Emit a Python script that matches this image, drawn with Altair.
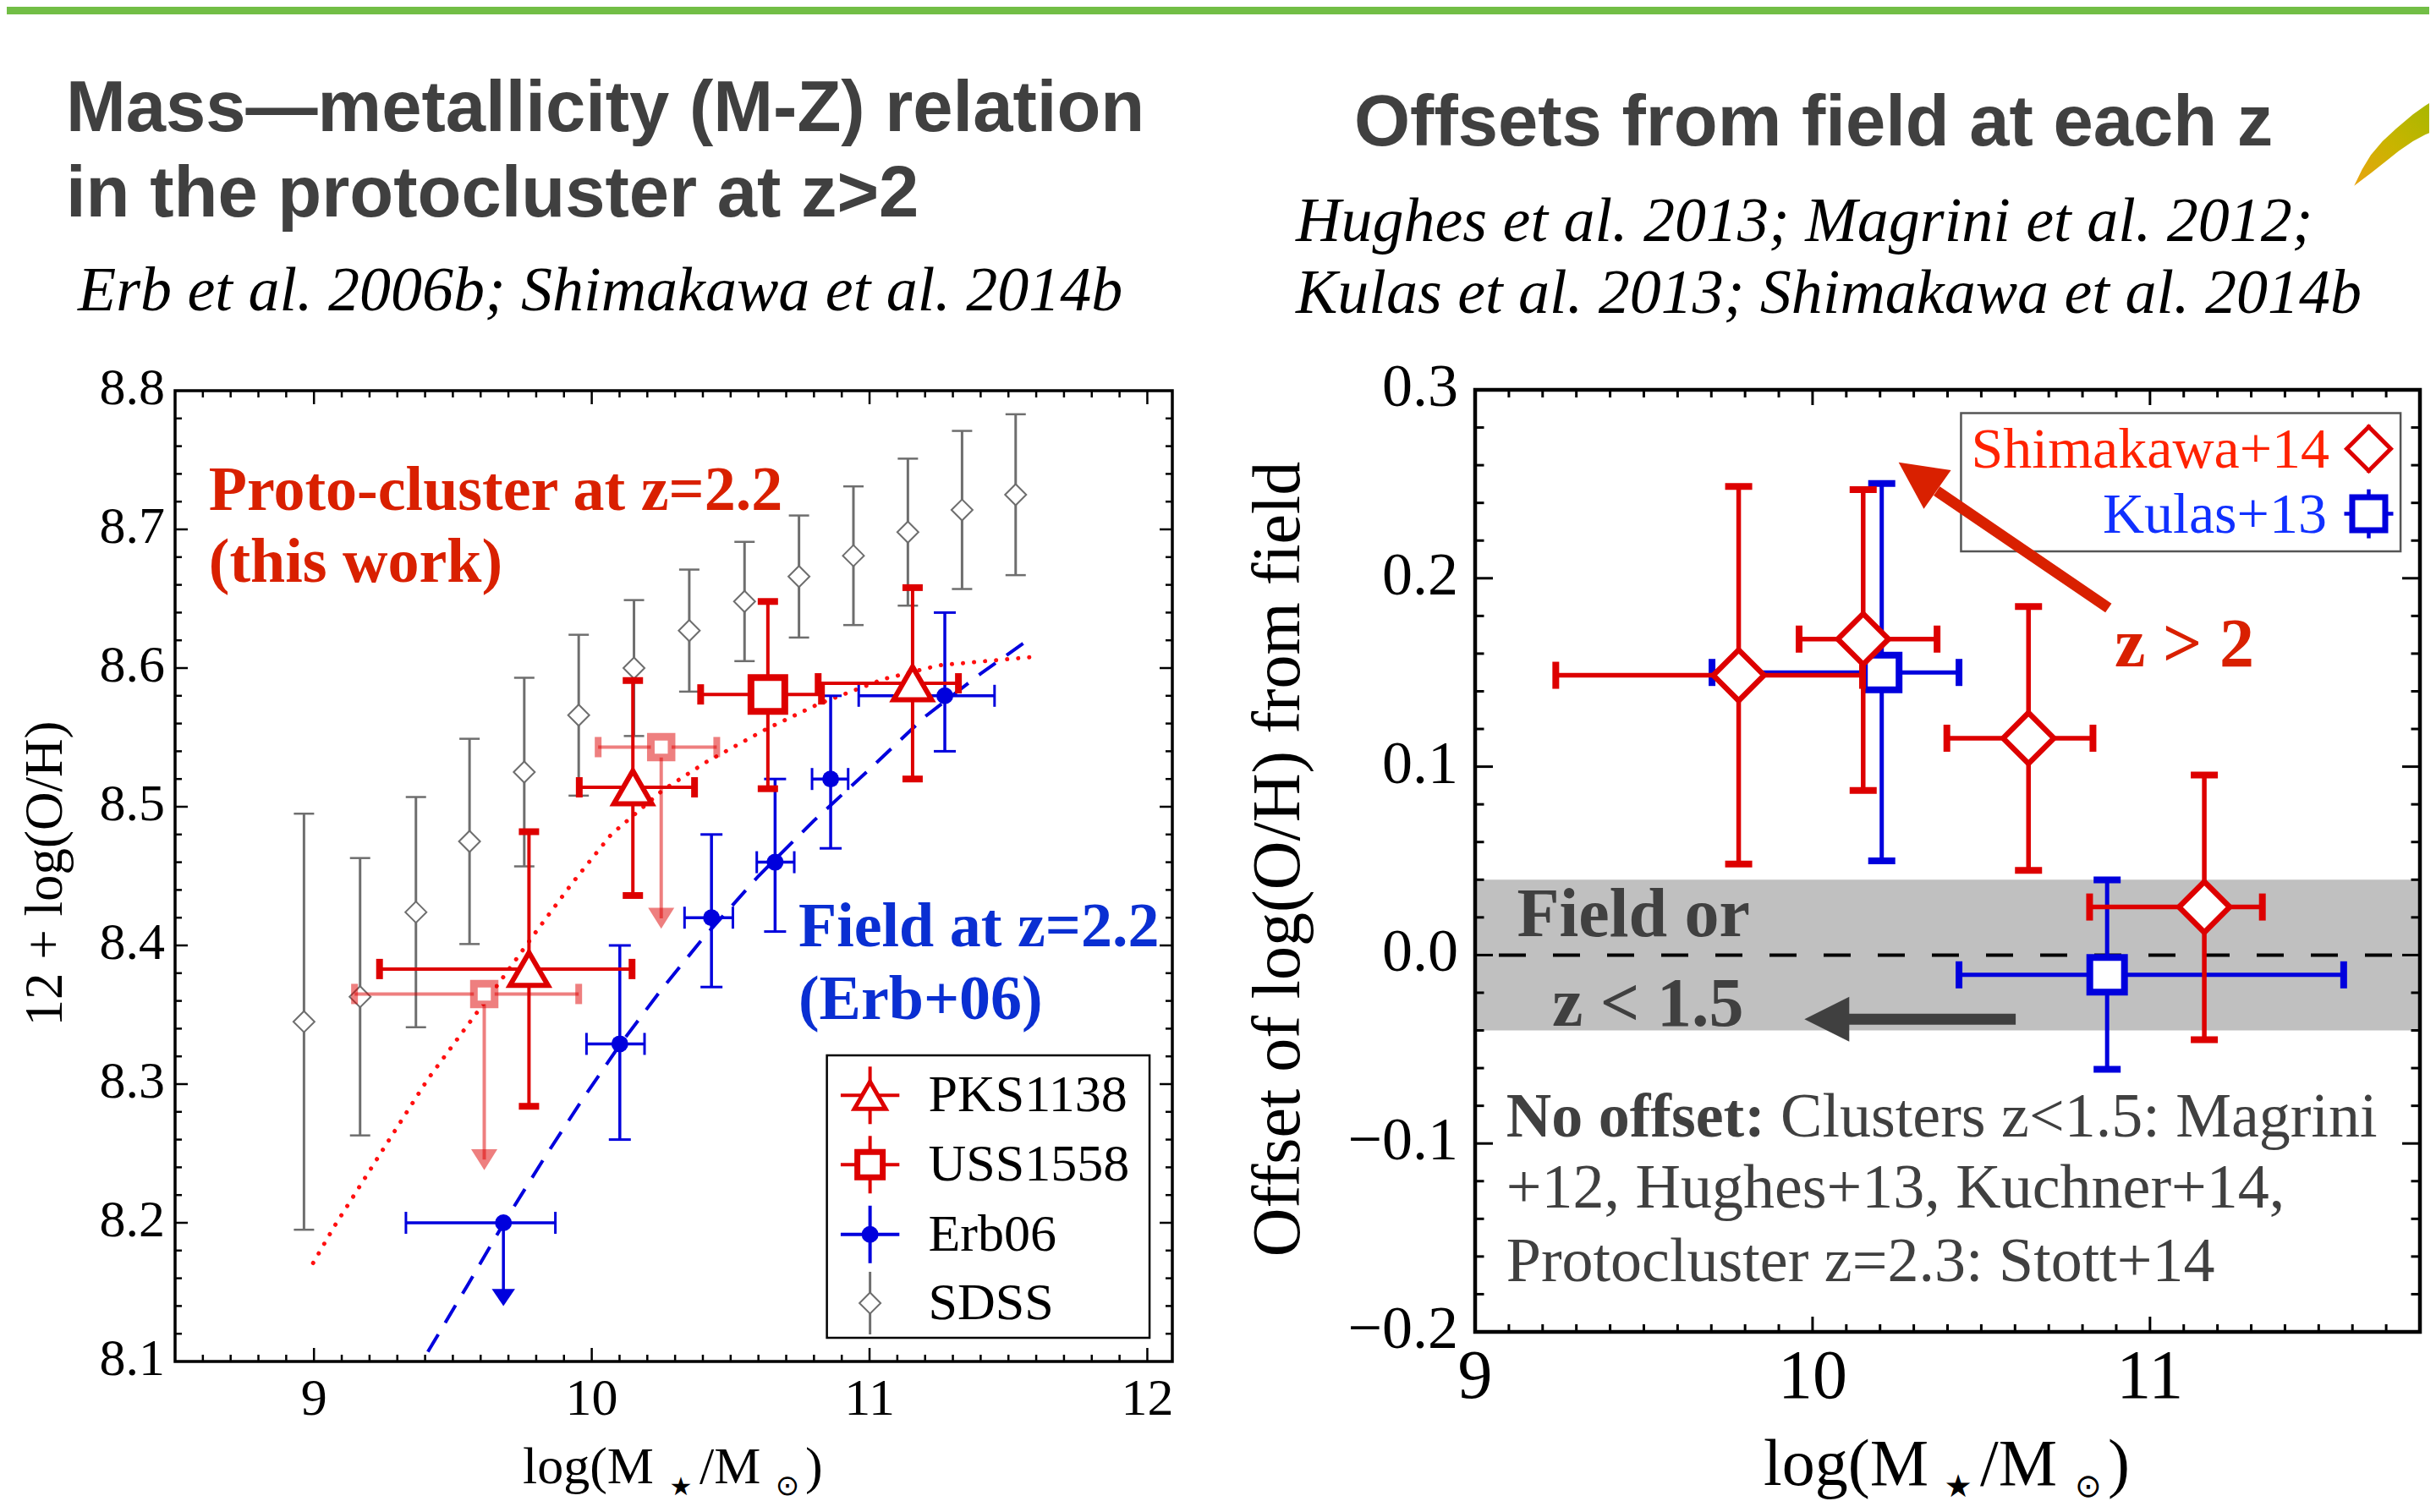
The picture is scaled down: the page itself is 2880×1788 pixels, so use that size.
import altair as alt
import pandas as pd

W, H = 2864, 1772
SERIF = "Liberation Serif"
SANS = "Liberation Sans"
RED = "#dd0000"
BLUE = "#0000dd"
GRAY = "#6e6e6e"
DARK = "#404040"
TRED = "#d92000"
TBLUE = "#0a2fd2"

# ---------------- LEFT PANEL DATA (12+log(O/H) vs log M*) ----------------
sdss_mass = [8.964, 9.166, 9.367, 9.560, 9.757, 9.953, 10.152, 10.351, 10.550, 10.746, 10.942, 11.138, 11.333, 11.526]
sdss_oh = [8.345, 8.363, 8.424, 8.475, 8.525, 8.566, 8.600, 8.627, 8.648, 8.666, 8.681, 8.698, 8.714, 8.725]
sdss_err = [0.150, 0.100, 0.083, 0.074, 0.068, 0.058, 0.049, 0.044, 0.043, 0.044, 0.050, 0.053, 0.057, 0.058]

pks_mass = [9.774, 10.148, 11.155]
pks_mlo = [9.236, 9.955, 10.815]
pks_mhi = [10.145, 10.370, 11.320]
pks_oh = [8.383, 8.514, 8.589]
pks_ohlo = [8.284, 8.436, 8.520]
pks_ohhi = [8.482, 8.591, 8.658]

uss_mass = [10.634]
uss_mlo = [10.392]
uss_mhi = [10.827]
uss_oh = [8.581]
uss_ohlo = [8.513]
uss_ohhi = [8.648]

ussl_mass = [9.613, 10.250]
ussl_mlo = [9.146, 10.023]
ussl_mhi = [9.953, 10.450]
ussl_oh = [8.365, 8.543]
ussl_tip = [8.238, 8.412]

erb_mass = [9.682, 10.101, 10.431, 10.660, 10.860, 11.271]
erb_mlo = [9.331, 9.981, 10.334, 10.594, 10.793, 10.961]
erb_mhi = [9.869, 10.190, 10.508, 10.729, 10.923, 11.450]
erb_oh = [8.200, 8.329, 8.420, 8.460, 8.520, 8.580]
erb_ohlo = [None, 8.260, 8.370, 8.410, 8.470, 8.540]
erb_ohhi = [None, 8.400, 8.480, 8.520, 8.580, 8.640]
erb_tip = [8.140]

erbfit_mass = [9.41, 9.55, 9.69, 9.83, 9.97, 10.10, 10.25, 10.40, 10.60, 10.80, 11.00, 11.20, 11.40, 11.59]
erbfit_oh = [8.107, 8.154, 8.202, 8.247, 8.290, 8.328, 8.368, 8.405, 8.450, 8.490, 8.527, 8.565, 8.596, 8.623]

pcfit_mass = [8.997, 9.072, 9.268, 9.408, 9.577, 9.670, 9.800, 9.930, 10.070, 10.256, 10.410, 10.628, 10.815, 11.050, 11.250, 11.586]
pcfit_oh = [8.171, 8.197, 8.259, 8.303, 8.349, 8.374, 8.410, 8.445, 8.480, 8.512, 8.532, 8.556, 8.574, 8.592, 8.602, 8.608]

left_xticks = [9, 10, 11, 12]
left_xlabels = ["9", "10", "11", "12"]
left_yticks = [8.1, 8.2, 8.3, 8.4, 8.5, 8.6, 8.7, 8.8]
left_ylabels = ["8.1", "8.2", "8.3", "8.4", "8.5", "8.6", "8.7", "8.8"]

legend_names = ["PKS1138", "USS1558", "Erb06", "SDSS"]

# ---------------- RIGHT PANEL DATA (offset from field) ----------------
shim_mass = [9.781, 10.150, 10.640, 11.161]
shim_mlo = [9.239, 9.960, 10.398, 10.821]
shim_mhi = [10.148, 10.369, 10.831, 11.333]
shim_off = [0.1485, 0.1677, 0.1151, 0.0255]
shim_offlo = [0.0483, 0.0874, 0.0449, -0.0449]
shim_offhi = [0.2487, 0.2470, 0.1850, 0.0956]

kulas_mass = [10.205, 10.873]
kulas_mlo = [9.702, 10.434]
kulas_mhi = [10.434, 11.574]
kulas_off = [0.1500, -0.0105]
kulas_offlo = [0.0500, -0.0606]
kulas_offhi = [0.2503, 0.0399]

field_band = [-0.04, 0.04]

right_xticks = [9, 10, 11]
right_xlabels = ["9", "10", "11"]
right_yticks = [-0.2, -0.1, 0.0, 0.1, 0.2, 0.3]
right_ylabels = ["\u22120.2", "\u22120.1", "0.0", "0.1", "0.2", "0.3"]

# ---------------- scales (each panel has its own pixel range) ----------------
LP = {"xs": alt.Scale(domain=[8.5, 12.09], range=[199, 1378], nice=False, zero=False),
      "ys": alt.Scale(domain=[8.1, 8.8], range=[1602, 454], nice=False, zero=False),
      "pxx": 1179 / 3.59, "pxy": 1148 / 0.7}
RP = {"xs": alt.Scale(domain=[9.0, 11.8], range=[1736, 2853], nice=False, zero=False),
      "ys": alt.Scale(domain=[-0.2, 0.3], range=[1567, 453], nice=False, zero=False),
      "pxx": 1117 / 2.8, "pxy": 1114 / 0.5}


def X(f, p):
    return alt.X(f, type="quantitative", scale=p["xs"], axis=None)


def Y(f, p):
    return alt.Y(f, type="quantitative", scale=p["ys"], axis=None)


def vrule(df, p, x, y, y2, **mk):
    return alt.Chart(df).mark_rule(**mk).encode(x=X(x, p), y=Y(y, p), y2=alt.Y2(y2))


def hrule(df, p, x, x2, y, **mk):
    return alt.Chart(df).mark_rule(**mk).encode(x=X(x, p), x2=alt.X2(x2), y=Y(y, p))


def seg(df, p, x, y, x2, y2, **mk):
    return alt.Chart(df).mark_rule(**mk).encode(x=X(x, p), y=Y(y, p), x2=alt.X2(x2), y2=alt.Y2(y2))


def tick(df, p, x, y, **mk):
    mk.setdefault("opacity", 1)
    return alt.Chart(df).mark_tick(**mk).encode(x=X(x, p), y=Y(y, p))


def pts(df, p, x, y, **mk):
    mk.setdefault("opacity", 1)
    return alt.Chart(df).mark_point(filled=True, **mk).encode(x=X(x, p), y=Y(y, p))


def txt(df, p, x, y, **mk):
    return alt.Chart(df).mark_text(**mk).encode(x=X(x, p), y=Y(y, p), text=alt.Text("t:N"))


def errbars(df, p, color, bw, clen, cth, opacity=1, vert=True):
    out = [hrule(df, p, "xlo", "xhi", "y", color=color, strokeWidth=bw, opacity=opacity)]
    if vert:
        out.append(vrule(df, p, "x", "ylo", "yhi", color=color, strokeWidth=bw, opacity=opacity))
        out.append(tick(df, p, "x", "ylo", orient="horizontal", size=clen, thickness=cth, color=color, opacity=opacity))
        out.append(tick(df, p, "x", "yhi", orient="horizontal", size=clen, thickness=cth, color=color, opacity=opacity))
    out.append(tick(df, p, "xlo", "y", orient="vertical", size=clen, thickness=cth, color=color, opacity=opacity))
    out.append(tick(df, p, "xhi", "y", orient="vertical", size=clen, thickness=cth, color=color, opacity=opacity))
    return out


def frame_and_ticks(p, x0, x1, y0, y1, xt, yt, xmaj, ymaj, xlen, ylen, sw, tw):
    # xlen/ylen : (major, minor) tick length in pixels; ticks point inward
    fr = pd.DataFrame({"x": [x0], "x2": [x1], "y": [y0], "y2": [y1]})
    layers = [alt.Chart(fr).mark_rect(fillOpacity=0, stroke="black", strokeWidth=sw).encode(
        x=X("x", p), x2=alt.X2("x2"), y=Y("y", p), y2=alt.Y2("y2"))]
    rows = []
    for v in xt:
        L = (xlen[0] if any(abs(v - m) < 1e-6 for m in xmaj) else xlen[1]) / p["pxy"]
        rows.append({"x": v, "x2": v, "y": y0, "y2": y0 + L})
        rows.append({"x": v, "x2": v, "y": y1, "y2": y1 - L})
    for v in yt:
        L = (ylen[0] if any(abs(v - m) < 1e-6 for m in ymaj) else ylen[1]) / p["pxx"]
        rows.append({"x": x0, "x2": x0 + L, "y": v, "y2": v})
        rows.append({"x": x1, "x2": x1 - L, "y": v, "y2": v})
    layers.append(seg(pd.DataFrame(rows), p, "x", "y", "x2", "y2", color="black", strokeWidth=tw))
    return layers


def tri_path(hw):
    return "M-1,-%.2fL1,-%.2fL0,%.2fZ" % (hw, hw, hw)


# =============================== LEFT PANEL ===============================
lp = LP
left_layers = []

sdss = pd.DataFrame({"x": sdss_mass, "y": sdss_oh})
sdss["ylo"] = [a - b for a, b in zip(sdss_oh, sdss_err)]
sdss["yhi"] = [a + b for a, b in zip(sdss_oh, sdss_err)]
left_layers += [
    vrule(sdss, lp, "x", "ylo", "yhi", color=GRAY, strokeWidth=3),
    tick(sdss, lp, "x", "ylo", orient="horizontal", size=24, thickness=2.5, color=GRAY),
    tick(sdss, lp, "x", "yhi", orient="horizontal", size=24, thickness=2.5, color=GRAY),
    pts(sdss, lp, "x", "y", shape="diamond", size=625, fill="white", stroke=GRAY, strokeWidth=2),
]

pcfit = pd.DataFrame({"x": pcfit_mass, "y": pcfit_oh})
erbfit = pd.DataFrame({"x": erbfit_mass, "y": erbfit_oh})
left_layers += [
    alt.Chart(pcfit).mark_line(color="#ff1010", strokeWidth=5, strokeDash=[0.1, 13], strokeCap="round").encode(
        x=X("x", lp), y=Y("y", lp)),
    alt.Chart(erbfit).mark_line(color=BLUE, strokeWidth=4, strokeDash=[24, 16]).encode(
        x=X("x", lp), y=Y("y", lp)),
]

# Erb06 field galaxies
erb = pd.DataFrame({"x": erb_mass, "xlo": erb_mlo, "xhi": erb_mhi, "y": erb_oh,
                    "ylo": erb_ohlo, "yhi": erb_ohhi})
erb_det = erb.iloc[1:].reset_index(drop=True)
erb_lim = erb.iloc[:1].reset_index(drop=True)
erb_lim["tip"] = erb_tip
erb_lim["head"] = [t + 10 / lp["pxy"] for t in erb_tip]
left_layers += errbars(erb_det, lp, BLUE, 3.5, 26, 3)
left_layers += [
    hrule(erb_lim, lp, "xlo", "xhi", "y", color=BLUE, strokeWidth=3.5),
    tick(erb_lim, lp, "xlo", "y", orient="vertical", size=26, thickness=3, color=BLUE),
    tick(erb_lim, lp, "xhi", "y", orient="vertical", size=26, thickness=3, color=BLUE),
    vrule(erb_lim, lp, "x", "head", "y", color=BLUE, strokeWidth=3.5),
    pts(erb_lim, lp, "x", "head", shape=tri_path(0.73), size=756, color=BLUE, strokeWidth=0),
    pts(erb, lp, "x", "y", shape="circle", size=400, color=BLUE, strokeWidth=0),
]

# USS1558 upper limits (faded)
ussl = pd.DataFrame({"x": ussl_mass, "xlo": ussl_mlo, "xhi": ussl_mhi, "y": ussl_oh, "tip": ussl_tip})
ussl["head"] = [t + 12.4 / lp["pxy"] for t in ussl_tip]
left_layers += errbars(ussl, lp, RED, 4, 24, 8, opacity=0.5, vert=False)
left_layers += [
    vrule(ussl, lp, "x", "head", "y", color=RED, strokeWidth=4, opacity=0.5),
    pts(ussl, lp, "x", "head", shape=tri_path(0.8), size=961, color=RED, strokeWidth=0, opacity=0.5),
    pts(ussl, lp, "x", "y", shape="square", size=600, fill="white", stroke=RED, strokeWidth=9,
        strokeOpacity=0.5),
]

# USS1558 and PKS1138 detections
uss = pd.DataFrame({"x": uss_mass, "xlo": uss_mlo, "xhi": uss_mhi, "y": uss_oh, "ylo": uss_ohlo, "yhi": uss_ohhi})
pks = pd.DataFrame({"x": pks_mass, "xlo": pks_mlo, "xhi": pks_mhi, "y": pks_oh, "ylo": pks_ohlo, "yhi": pks_ohhi})
left_layers += errbars(uss, lp, RED, 4, 24, 8)
left_layers += errbars(pks, lp, RED, 4, 24, 8)
left_layers += [
    pts(uss, lp, "x", "y", shape="square", size=1600, fill="white", stroke=RED, strokeWidth=8),
    pts(pks, lp, "x", "y", shape="triangle-up", size=2025, fill="white", stroke=RED, strokeWidth=6),
]

# annotations
pc_txt = pd.DataFrame({"x": [8.621, 8.621], "y": [8.714, 8.662], "t": ["Proto-cluster at z=2.2", "(this work)"]})
fd_txt = pd.DataFrame({"x": [10.744, 10.744], "y": [8.3994, 8.347], "t": ["Field at z=2.2", "(Erb+06)"]})
left_layers += [
    txt(pc_txt, lp, "x", "y", align="left", baseline="alphabetic", font=SERIF, fontWeight="bold",
        fontSize=74, color=TRED),
    txt(fd_txt, lp, "x", "y", align="left", baseline="alphabetic", font=SERIF, fontWeight="bold",
        fontSize=74, color=TBLUE),
]

# legend box
lg_rows = [8.2919, 8.2419, 8.1916, 8.1421]
lgx = 11.0018
lg_box = pd.DataFrame({"x": [10.8465], "x2": [12.008], "y": [8.117], "y2": [8.3207]})
lgh = 34.7 / lp["pxx"]
lgv = 34 / lp["pxy"]
lg_err = pd.DataFrame({"x": [lgx] * 3, "xlo": [lgx - lgh] * 3, "xhi": [lgx + lgh] * 3,
                       "y": lg_rows[:3], "ylo": [r - lgv for r in lg_rows[:3]],
                       "yhi": [r + lgv for r in lg_rows[:3]], "c": [RED, RED, BLUE]})
lg_sdss = pd.DataFrame({"x": [lgx], "y": [lg_rows[3]], "ylo": [lg_rows[3] - 37 / lp["pxy"]],
                        "yhi": [lg_rows[3] + 37 / lp["pxy"]]})
lg_txt = pd.DataFrame({"x": [11.2113] * 4, "y": lg_rows, "t": legend_names})
left_layers += [
    alt.Chart(lg_box).mark_rect(fill="white", stroke="black", strokeWidth=2.5).encode(
        x=X("x", lp), x2=alt.X2("x2"), y=Y("y", lp), y2=alt.Y2("y2")),
    hrule(lg_err.iloc[:2], lp, "xlo", "xhi", "y", color=RED, strokeWidth=4),
    vrule(lg_err.iloc[:2], lp, "x", "ylo", "yhi", color=RED, strokeWidth=4),
    hrule(lg_err.iloc[2:], lp, "xlo", "xhi", "y", color=BLUE, strokeWidth=4),
    vrule(lg_err.iloc[2:], lp, "x", "ylo", "yhi", color=BLUE, strokeWidth=4),
    vrule(lg_sdss, lp, "x", "ylo", "yhi", color=GRAY, strokeWidth=3),
    pts(lg_err.iloc[:1], lp, "x", "y", shape="triangle-up", size=1369, fill="white", stroke=RED, strokeWidth=5),
    pts(lg_err.iloc[1:2], lp, "x", "y", shape="square", size=900, fill="white", stroke=RED, strokeWidth=7),
    pts(lg_err.iloc[2:], lp, "x", "y", shape="circle", size=400, color=BLUE, strokeWidth=0),
    pts(lg_sdss, lp, "x", "y", shape="diamond", size=625, fill="white", stroke=GRAY, strokeWidth=2),
    txt(lg_txt, lp, "x", "y", align="left", baseline="middle", font=SERIF, fontSize=62, color="black"),
]

# frame, inward ticks, tick labels
left_layers += frame_and_ticks(lp, 8.5, 12.09, 8.1, 8.8,
                               [round(8.6 + 0.1 * i, 2) for i in range(35)],
                               [round(8.12 + 0.02 * i, 2) for i in range(34)],
                               left_xticks, left_yticks, (16, 8), (15, 8), 3.5, 2.5)
lxl = pd.DataFrame({"x": left_xticks, "y": [8.1] * 4, "t": left_xlabels})
lyl = pd.DataFrame({"x": [8.5] * 8, "y": left_yticks, "t": left_ylabels})
left_layers += [
    txt(lxl, lp, "x", "y", align="center", baseline="alphabetic", dy=63, font=SERIF, fontSize=62, color="black"),
    txt(lyl, lp, "x", "y", align="right", baseline="alphabetic", dx=-12, dy=16, font=SERIF, fontSize=62,
        color="black"),
]

# =============================== RIGHT PANEL ===============================
rp = RP
right_layers = []
band = pd.DataFrame({"x": [9.0], "x2": [11.8], "y": [field_band[0]], "y2": [field_band[1]]})
zero = pd.DataFrame({"x": [9.0], "x2": [11.8], "y": [0.0]})
right_layers += [
    alt.Chart(band).mark_rect(color="#c0c0c0").encode(x=X("x", rp), x2=alt.X2("x2"), y=Y("y", rp), y2=alt.Y2("y2")),
    hrule(zero, rp, "x", "x2", "y", color="black", strokeWidth=4, strokeDash=[32, 32], strokeDashOffset=36),
]
fz_txt = pd.DataFrame({"x": [9.124, 9.228], "y": [0.0101, -0.0375], "t": ["Field or", "z < 1.5"]})
garrow = pd.DataFrame({"x": [10.602], "x2": [10.108], "y": [-0.0341], "hx": [10.0424]})
right_layers += [
    txt(fz_txt, rp, "x", "y", align="left", baseline="alphabetic", font=SERIF, fontWeight="bold",
        fontSize=82, color=DARK),
    hrule(garrow, rp, "x", "x2", "y", color=DARK, strokeWidth=13),
    pts(garrow, rp, "hx", "y", shape="M-1,0L1,-1L1,1Z", size=2809, color=DARK, strokeWidth=0),
]

kul = pd.DataFrame({"x": kulas_mass, "xlo": kulas_mlo, "xhi": kulas_mhi, "y": kulas_off,
                    "ylo": kulas_offlo, "yhi": kulas_offhi})
shim = pd.DataFrame({"x": shim_mass, "xlo": shim_mlo, "xhi": shim_mhi, "y": shim_off,
                     "ylo": shim_offlo, "yhi": shim_offhi})
right_layers += errbars(kul, rp, BLUE, 5, 32, 8)
right_layers += [pts(kul, rp, "x", "y", shape="square", size=1681, fill="white", stroke=BLUE, strokeWidth=8)]
right_layers += errbars(shim, rp, RED, 5.5, 32, 8)
right_layers += [pts(shim, rp, "x", "y", shape="diamond", size=3600, fill="white", stroke=RED, strokeWidth=6.5)]

# legend (right)
rl_box = pd.DataFrame({"x": [10.440], "x2": [11.7426], "y": [0.2143], "y2": [0.2877]})
rl_sym = pd.DataFrame({"x": [11.6483, 11.6483], "y": [0.2687, 0.2342]})
rl_sym["ylo"] = [0.2687 - 0.0127, 0.2342 - 0.013]
rl_sym["yhi"] = [0.2687 + 0.0127, 0.2342 + 0.013]
rl_sym["xlo"] = [11.6483, 11.6483 - 0.0727]
rl_sym["xhi"] = [11.6483, 11.6483 + 0.0727]
rl_t1 = pd.DataFrame({"x": [11.532], "y": [0.2589], "t": ["Shimakawa+14"]})
rl_t2 = pd.DataFrame({"x": [11.524], "y": [0.2242], "t": ["Kulas+13"]})
right_layers += [
    alt.Chart(rl_box).mark_rect(fill="white", stroke="#555555", strokeWidth=2.5).encode(
        x=X("x", rp), x2=alt.X2("x2"), y=Y("y", rp), y2=alt.Y2("y2")),
    vrule(rl_sym.iloc[:1], rp, "x", "ylo", "yhi", color=RED, strokeWidth=4.5),
    vrule(rl_sym.iloc[1:], rp, "x", "ylo", "yhi", color=BLUE, strokeWidth=4.5),
    hrule(rl_sym.iloc[1:], rp, "xlo", "xhi", "y", color=BLUE, strokeWidth=4.5),
    pts(rl_sym.iloc[:1], rp, "x", "y", shape="diamond", size=2704, fill="white", stroke=RED, strokeWidth=5),
    pts(rl_sym.iloc[1:], rp, "x", "y", shape="square", size=1521, fill="white", stroke=BLUE, strokeWidth=7),
    txt(rl_t1, rp, "x", "y", align="right", baseline="alphabetic", font=SERIF, fontSize=68, color="#ff2200"),
    txt(rl_t2, rp, "x", "y", align="right", baseline="alphabetic", font=SERIF, fontSize=68, color="#1030ff"),
]

# "z > 2" arrow
zarrow = pd.DataFrame({"x": [10.877], "y": [0.1842], "x2": [10.368], "y2": [0.2463],
                       "hx": [10.3125], "hy": [0.2543]})
z2_txt = pd.DataFrame({"x": [10.895], "y": [0.1532], "t": ["z > 2"]})
right_layers += [
    seg(zarrow, rp, "x", "y", "x2", "y2", color=TRED, strokeWidth=13),
    pts(zarrow, rp, "hx", "hy", shape="M0,-1L1,1L-1,1Z", size=3136, angle=305, color=TRED, strokeWidth=0),
    txt(z2_txt, rp, "x", "y", align="left", baseline="alphabetic", font=SERIF, fontWeight="bold",
        fontSize=82, color=TRED),
]

# "No offset" note
no_b = pd.DataFrame({"x": [9.0921], "y": [-0.0961], "t": ["No offset:"]})
no_r = pd.DataFrame({"x": [9.905, 9.0921, 9.0921], "y": [-0.0961, -0.1340, -0.1729],
                     "t": ["Clusters z<1.5: Magrini", "+12, Hughes+13, Kuchner+14,",
                           "Protocluster z=2.3: Stott+14"]})
right_layers += [
    txt(no_b, rp, "x", "y", align="left", baseline="alphabetic", font=SERIF, fontWeight="bold",
        fontSize=74, color=DARK),
    txt(no_r, rp, "x", "y", align="left", baseline="alphabetic", font=SERIF, fontSize=74, color=DARK),
]

right_layers += frame_and_ticks(rp, 9.0, 11.8, -0.2, 0.3,
                                [round(9.1 + 0.1 * i, 2) for i in range(27)],
                                [round(-0.18 + 0.02 * i, 2) for i in range(24)],
                                right_xticks, right_yticks, (18, 9), (21, 10.5), 4.5, 3)
rxl = pd.DataFrame({"x": right_xticks, "y": [-0.2] * 3, "t": right_xlabels})
ryl = pd.DataFrame({"x": [9.0] * 6, "y": right_yticks, "t": right_ylabels})
right_layers += [
    txt(rxl, rp, "x", "y", align="center", baseline="alphabetic", dy=78, font=SERIF, fontSize=82, color="black"),
    txt(ryl, rp, "x", "y", align="right", baseline="alphabetic", dx=-20, dy=19, font=SERIF, fontSize=72,
        color="black"),
]

# =============================== PAGE TEXT ===============================
one = pd.DataFrame({"a": [0]})


def ptext(t, x, y, **mk):
    return alt.Chart(pd.DataFrame({"t": [t]})).mark_text(**mk).encode(
        x=alt.value(x), y=alt.value(y), text=alt.Text("t:N"))


leaf_path = ("M-0.78,0.83L-0.62,0.50L-0.45,0.22L-0.22,-0.05L0.05,-0.30L0.38,-0.58L0.62,-0.75L0.9,-0.92"
             "L0.9,-0.30L0.62,-0.18L0.38,-0.05L0.10,0.14L-0.15,0.34L-0.45,0.58Z")
page = [
    alt.Chart(one).mark_rect(color="#72be46").encode(x=alt.value(0), x2=alt.value(W), y=alt.value(0),
                                                     y2=alt.value(9)),
    alt.Chart(one).mark_point(
        shape=leaf_path, size=14400, filled=True, opacity=1, strokeWidth=0,
        fill={"gradient": "linear", "x1": 0, "y1": 1, "x2": 1, "y2": 0,
              "stops": [{"offset": 0, "color": "#e8a310"}, {"offset": 0.45, "color": "#c9b400"},
                        {"offset": 1, "color": "#a2b800"}]}).encode(x=alt.value(2822), y=alt.value(162)),
    ptext("Mass\u2014metallicity (M-Z) relation", 70, 147, align="left", baseline="alphabetic", font=SANS,
          fontWeight="bold", fontSize=85, color=DARK),
    ptext("in the protocluster at z>2", 70, 248, align="left", baseline="alphabetic", font=SANS,
          fontWeight="bold", fontSize=85, color=DARK),
    ptext("Erb et al. 2006b; Shimakawa et al. 2014b", 84, 359, align="left", baseline="alphabetic", font=SERIF,
          fontStyle="italic", fontSize=74, color="black"),
    ptext("Offsets from field at each z", 1593, 164, align="left", baseline="alphabetic", font=SANS,
          fontWeight="bold", fontSize=85, color=DARK),
    ptext("Hughes et al. 2013; Magrini et al. 2012;", 1524, 277, align="left", baseline="alphabetic", font=SERIF,
          fontStyle="italic", fontSize=74, color="black"),
    ptext("Kulas et al. 2013; Shimakawa et al. 2014b", 1524, 362, align="left", baseline="alphabetic",
          font=SERIF, fontStyle="italic", fontSize=74, color="black"),
    # axis titles
    ptext("12 + log(O/H)", 65, 1025, align="center", baseline="alphabetic", angle=270, font=SERIF, fontSize=63,
          color="black"),
    ptext("Offset of log(O/H) from field", 1528, 1008, align="center", baseline="alphabetic", angle=270,
          font=SERIF, fontSize=80, color="black"),
    ptext("log(M", 610, 1746, align="left", baseline="alphabetic", font=SERIF, fontSize=62, color="black"),
    ptext("\u2605", 797, 1751, align="center", baseline="middle", font="DejaVu Sans", fontSize=30, color="black"),
    ptext("/M", 819, 1746, align="left", baseline="alphabetic", font=SERIF, fontSize=62, color="black"),
    ptext("\u2299", 923, 1750, align="center", baseline="middle", font="DejaVu Sans", fontSize=34, color="black"),
    ptext(")", 944, 1746, align="left", baseline="alphabetic", font=SERIF, fontSize=62, color="black"),
    ptext("log(M", 2077, 1748, align="left", baseline="alphabetic", font=SERIF, fontSize=78, color="black"),
    ptext("\u2605", 2307, 1751, align="center", baseline="middle", font="DejaVu Sans", fontSize=37, color="black"),
    ptext("/M", 2333, 1748, align="left", baseline="alphabetic", font=SERIF, fontSize=78, color="black"),
    ptext("\u2299", 2461, 1751, align="center", baseline="middle", font="DejaVu Sans", fontSize=38, color="black"),
    ptext(")", 2484, 1748, align="left", baseline="alphabetic", font=SERIF, fontSize=78, color="black"),
]

chart = alt.layer(
    alt.layer(*left_layers),
    alt.layer(*right_layers),
    *page,
).resolve_scale(x="independent", y="independent").properties(
    width=W, height=H, autosize=alt.AutoSizeParams(type="none"), padding=0
).configure_view(stroke=None)

chart.save("out.html", embed_options={"renderer": "svg", "actions": False})
